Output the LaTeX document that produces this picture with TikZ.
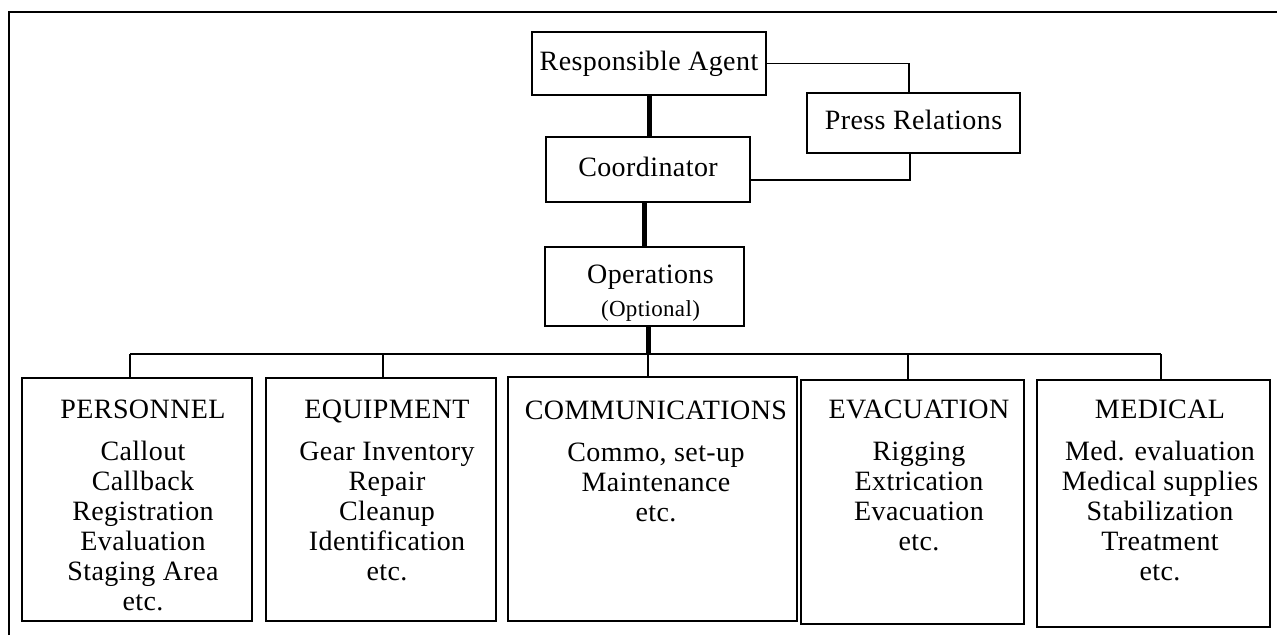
\documentclass[tikz,border=0pt]{standalone}
\usepackage{fontspec}
\setmainfont[LetterSpace=1.5]{Liberation Serif}
\usepackage{tikz}

\tikzset{
  box/.style={draw, line width=1.6pt, inner sep=0pt, outer sep=0pt},
  topbox/.style={box, text height=20pt, text depth=6.5pt},
  link/.style={line width=1.7pt},
  trunk/.style={line width=5pt},
  frame/.style={line width=2.4pt},
  list/.style={anchor=north, align=center, inner sep=0pt}
}

\begin{document}
\begin{tikzpicture}[x=1pt, y=-1pt, font=\fontsize{28}{30}\selectfont]
\useasboundingbox (0,0) rectangle (1277,635);
\draw[frame] (9,635) -- (9,12) -- (1277,12);

% top of the chart
\node[topbox, minimum width=234pt, minimum height=63pt] (ra) at (649,63.5) {Responsible Agent};
\node[topbox, minimum width=213pt, minimum height=60pt] (pr) at (913.5,123) {Press Relations};
\node[topbox, minimum width=204pt, minimum height=65pt] (coord) at (648,169.5) {Coordinator};
\node[box, minimum width=199pt, minimum height=79pt] (ops) at (644.5,286.5) {};
\node[anchor=base, inner sep=0pt] (ops-txt) at (650.5,283) {Operations};
\node[anchor=base, inner sep=0pt, font=\fontsize{23}{24}\selectfont] (ops-note) at (650.5,316) {(Optional)};

% sections
\node[box, minimum width=230pt, minimum height=243pt] (pers) at (137,499.5) {};
\node[box, minimum width=230pt, minimum height=243pt] (equip) at (381,499.5) {};
\node[box, minimum width=289pt, minimum height=244pt] (comm) at (652.5,499) {};
\node[box, minimum width=223pt, minimum height=244pt] (evac) at (912.5,502) {};
\node[box, minimum width=233pt, minimum height=247pt] (med) at (1153.5,503.5) {};

\node[list] (pers-txt) at (143,399.5) {PERSONNEL\\[12pt]Callout\\Callback\\Registration\\Evaluation\\Staging Area\\etc.};
\node[list] (equip-txt) at (387,399.5) {EQUIPMENT\\[12pt]Gear Inventory\\Repair\\Cleanup\\Identification\\etc.};
\node[list] (comm-txt) at (656,400.5) {COMMUNICATIONS\\[12pt]Commo, set-up\\Maintenance\\etc.};
\node[list] (evac-txt) at (919,399.5) {EVACUATION\\[12pt]Rigging\\Extrication\\Evacuation\\etc.};
\node[list] (med-txt) at (1160,399.5) {MEDICAL\\[12pt]Med. evaluation\\Medical supplies\\Stabilization\\Treatment\\etc.};

% connectors
\draw[trunk] (ra.south) -- (ra.south |- coord.north);
\draw[trunk] (ops.north) -- (ops.north |- coord.south);
\coordinate (hub) at (648,354);
\draw[trunk] (hub |- ops.south) -- (hub);
\draw[link] (ra.east) -| ([xshift=-4.5pt]pr.north);
\draw[link] ([yshift=-10.5pt]coord.east) -| ([xshift=-3.5pt]pr.south);
\foreach \b/\x in {pers/130,equip/383,comm/648,evac/908,med/1161}
  {\coordinate (\b-top) at (\x,354);
   \draw[link] (\b-top) -- (\b-top |- \b.north);}
\draw[link] (pers-top) -- (med-top);
\end{tikzpicture}
\end{document}
